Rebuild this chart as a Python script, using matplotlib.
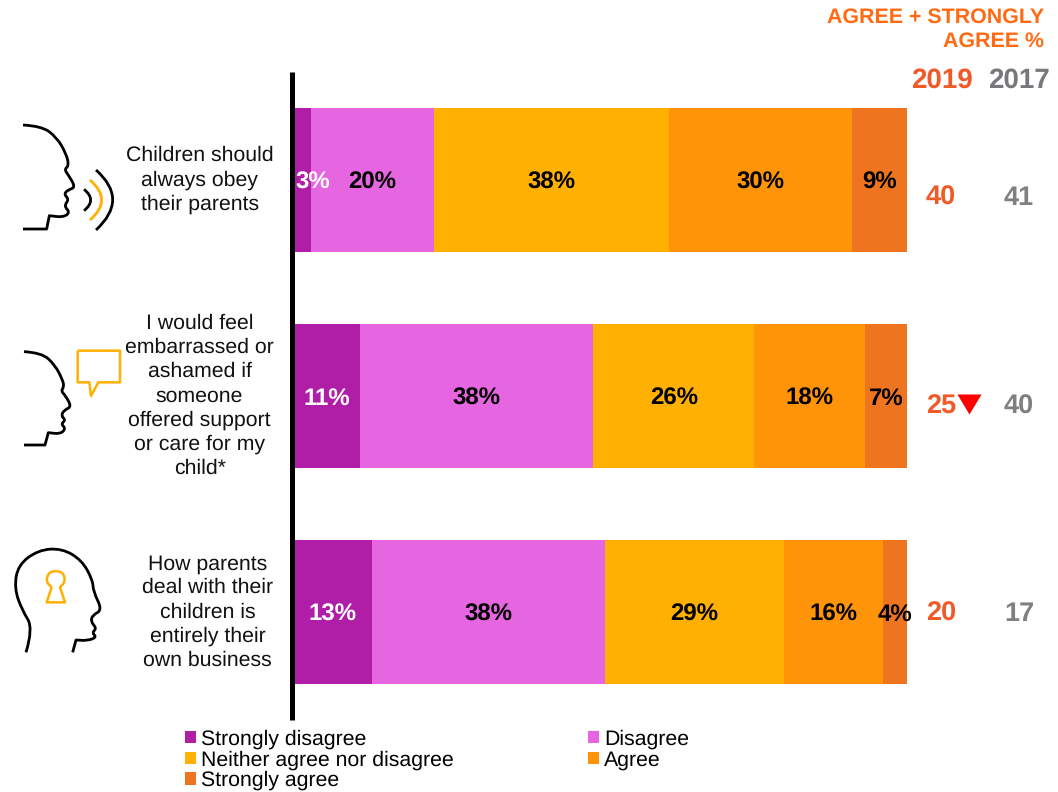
import numpy as np
import matplotlib
matplotlib.use('Agg')
import matplotlib.pyplot as plt
from matplotlib.path import Path
from matplotlib.patches import PathPatch

plt.rcParams['font.family'] = ['Liberation Sans', 'DejaVu Sans']
plt.rcParams['text.hinting'] = 'no_hinting'

statements = ['Children should\nalways obey\ntheir parents',
              'I would feel\nembarrassed or\nashamed if\nsomeone\noffered support\nor care for my\nchild*',
              'How parents\ndeal with their\nchildren is\nentirely their\nown business']
series = ['Strongly disagree', 'Disagree', 'Neither agree nor disagree', 'Agree', 'Strongly agree']
colors = ['#B01EA8', '#E665E0', '#FFB000', '#FF9408', '#EE7420']
label_colors = ['white', 'black', 'black', 'black', 'black']

strongly_disagree = [2.8, 10.8, 12.7]
disagree = [20.0, 38.0, 38.0]
neither = [38.3, 26.3, 29.2]
agree = [30.0, 18.0, 16.2]
strongly_agree = [8.9, 6.9, 3.9]
values = [strongly_disagree, disagree, neither, agree, strongly_agree]

agree_2019 = ['40', '25', '20']
agree_2017 = ['41', '40', '17']

W, H = 1058, 792
ORANGE = '#FFB000'

fig = plt.figure(figsize=(W / 100, H / 100), dpi=100)

# overlay in pixel coordinates, for the icons and the side columns
over = fig.add_axes([0, 0, 1, 1])
over.set_xlim(0, W)
over.set_ylim(H, 0)
over.axis('off')

ax = fig.add_axes([294 / W, 1 - 720 / H, 613 / W, 648 / H])
ax.patch.set_alpha(0)
y = np.arange(3)
left = np.zeros(3)
handles = []
for vals, name, col, lc in zip(values, series, colors, label_colors):
    vals = np.array(vals)
    bars = ax.barh(y, vals, left=left, height=0.667, color=col, label=name, linewidth=0)
    handles.append(bars)
    for i, v in enumerate(vals):
        dx = 1.7 if v < 3 else 0
        ax.text(left[i] + v / 2 + dx, i + 0.012, '%d%%' % round(v), ha='center', va='center',
                color=lc, fontsize=17.3, fontweight='bold')
    left += vals

ax.set_xlim(0, 100)
ax.set_ylim(2.5, -0.5)
ax.set_xticks([])
ax.set_yticks([])
for s in ['top', 'right', 'bottom']:
    ax.spines[s].set_visible(False)
ax.spines['left'].set_linewidth(3.6)
ax.spines['left'].set_color('black')
ax.spines['left'].set_capstyle('butt')
ax.spines['left'].set_position(('outward', 1.1))

for i, (txt, tx) in enumerate(zip(statements, [-15.4, -15.4, -14.1])):
    ax.text(tx, i, txt, ha='center', va='center', fontsize=15.3, linespacing=1.3, color='#111111')

# side columns
over.text(1044, 29, 'AGREE + STRONGLY\nAGREE %', ha='right', va='center', multialignment='right',
          color='#FF6A13', fontsize=15.4, fontweight='bold', linespacing=1.3)
over.text(942, 80, '2019', ha='center', va='center', color='#F05A28', fontsize=20, fontweight='bold')
over.text(1019, 80, '2017', ha='center', va='center', color='#77787B', fontsize=20, fontweight='bold')
for a, b, yy in zip(agree_2019, agree_2017, [198, 407, 614]):
    over.text(941, yy, a, ha='center', va='center', color='#F05A28', fontsize=19.5, fontweight='bold')
    over.text(1019, yy, b, ha='center', va='center', color='#808080', fontsize=19.5, fontweight='bold')
over.scatter([969], [404], marker=[(-12, 10), (12, 10), (0, -10)], s=300, color='#FF0000', linewidth=0)


def line(pts, ox, oy, color='black', lw=2.0, close=False):
    pts = np.array(pts, dtype=float) / 3 + [ox, oy]
    if close:
        pts = np.vstack([pts, pts[0]])
    over.plot(pts[:, 0], pts[:, 1], color=color, lw=lw, solid_joinstyle='round', solid_capstyle='butt')


def smooth(pts, ox, oy, color='black', lw=2.0):
    # quadratic spline through the midpoints; a repeated point keeps a corner
    pts = np.array(pts, dtype=float) / 3 + [ox, oy]
    verts = [pts[0]]
    codes = [Path.MOVETO]
    for k in range(1, len(pts) - 1):
        verts += [pts[k], (pts[k] + pts[k + 1]) / 2]
        codes += [Path.CURVE3, Path.CURVE3]
    verts.append(pts[-1])
    codes.append(Path.LINETO)
    over.add_patch(PathPatch(Path(verts, codes), fill=False, edgecolor=color, lw=lw,
                             joinstyle='round', capstyle='butt'))


def arc(p0, c, p1, ox, oy, color='black', lw=2.0):
    pts = np.array([p0, c, p1], dtype=float) / 3 + [ox, oy]
    over.add_patch(PathPatch(Path(pts, [Path.MOVETO, Path.CURVE3, Path.CURVE3]),
                             fill=False, edgecolor=color, lw=lw, capstyle='butt'))


# speaking head
smooth([(69, 75), (125, 78), (170, 112), (198, 160), (207, 197), (193, 208), (205, 225), (227, 262),
        (203, 270), (192, 283), (207, 298), (192, 318), (210, 337), (190, 352), (148, 347), (148, 347),
        (140, 387), (140, 387), (69, 387)], 0, 100)
arc((252, 268), (292, 300), (252, 332), 0, 100)
arc((270, 240), (340, 300), (270, 360), 0, 100, color=ORANGE)
arc((288, 210), (388, 298), (288, 390), 0, 100)

# head with speech bubble
smooth([(72, 65), (125, 68), (165, 105), (188, 150), (192, 170), (183, 183), (195, 195), (215, 230),
        (193, 240), (183, 257), (197, 270), (183, 282), (197, 295), (182, 312), (145, 308), (145, 308),
        (135, 345), (135, 345), (72, 345)], 0, 330)
line([(233, 62), (360, 62), (360, 157), (295, 157), (273, 198), (268, 157), (233, 157)], 0, 330,
     color=ORANGE, lw=1.8, close=True)

# head with keyhole
smooth([(78, 367), (100, 295), (66, 240), (43, 175), (54, 105), (115, 60), (185, 55), (245, 90),
        (278, 150), (280, 185), (307, 240), (278, 255), (272, 275), (290, 295), (276, 308), (290, 322),
        (262, 332), (228, 330), (228, 330), (218, 367)], 0, 530)
smooth([(155, 172), (155, 172), (138, 155), (145, 128), (167, 122), (190, 128), (196, 155), (180, 172),
        (180, 172), (195, 217), (195, 217), (140, 217), (140, 217), (155, 172)], 0, 530, color=ORANGE, lw=1.8)

order = [0, 2, 4, 1, 3]
leg = fig.legend([handles[k] for k in order], [series[k] for k in order], ncol=2,
                 loc='upper left', bbox_to_anchor=(181 / W, 1 - 725 / H), frameon=False,
                 fontsize=15.3, handlelength=0.52, handleheight=0.52, handletextpad=0.235,
                 labelspacing=0.056, columnspacing=6.3, borderpad=0.2, borderaxespad=0)

fig.savefig('out.png', dpi=100)
